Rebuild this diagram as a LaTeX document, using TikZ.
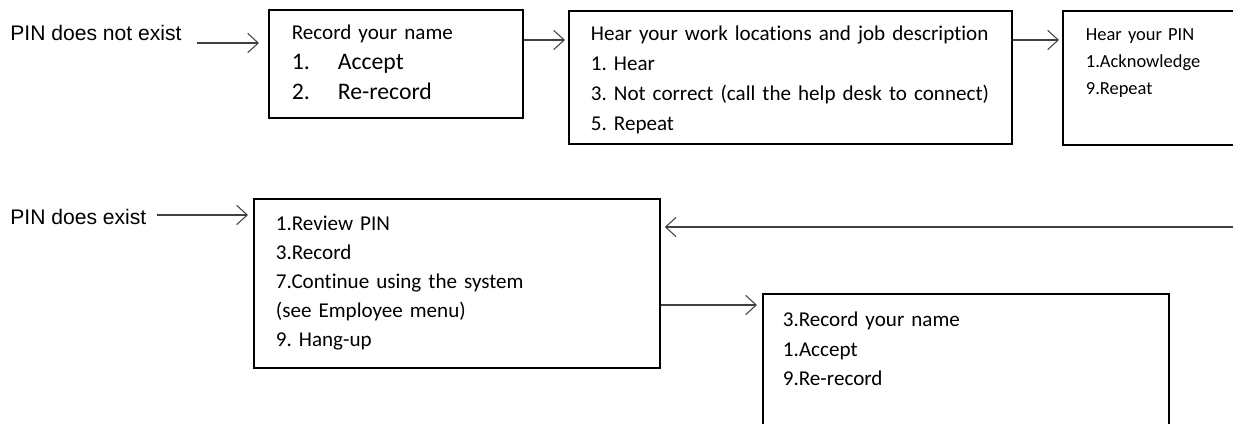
\documentclass[tikz,border=0pt]{standalone}
\usepackage{fontspec}
\setmainfont{Carlito}[Ligatures=NoCommon]
\newfontfamily\arialfont{Liberation Sans}
\usepackage{tikz}
\usetikzlibrary{arrows.meta}
\usepackage{xcolor}
\frenchspacing

\begin{document}
\begin{tikzpicture}[
    menu/.style={draw, line width=1pt, anchor=north west, inner sep=0pt, align=left},
    cue/.style={font=\arialfont\fontsize{12pt}{14pt}\selectfont, anchor=base west, inner sep=0pt},
    arr/.style={-{Straight Barb[length=6pt, width=11pt]}, line width=0.6pt, black!75}
]

  \useasboundingbox (0,0) rectangle (24.66,8.46);
  \clip (0,0) rectangle (24.66,8.46);

  % --- TOP ROW ---
  \node[cue] (noexist) at (0.2,7.64) {PIN does not exist};
  \node[menu, text width=5.08cm, text height=0.6cm, text depth=1.56cm,
        font=\fontsize{12pt}{17.07pt}\selectfont] (rec) at (5.36,8.28)
    {\leftskip=0.46cm Record your name\\
     {\fontsize{13.5pt}{17.07pt}\selectfont\makebox[0.92cm][l]{1.}Accept}\\
     {\fontsize{13.5pt}{17.07pt}\selectfont\makebox[0.92cm][l]{2.}Re-record}\par};
  \node[menu, text width=8.86cm, text height=0.6cm, text depth=2.06cm,
        font=\fontsize{12pt}{17.07pt}\selectfont] (hear) at (11.36,8.26)
    {\leftskip=0.44cm Hear your work locations and job description\\
     1. Hear\\
     3. Not correct (call the help desk to connect)\\
     5. Repeat\par};
  \node[menu, text width=4.76cm, text height=0.59cm, text depth=2.09cm,
        font=\fontsize{10.5pt}{15.37pt}\selectfont] (pin) at (21.24,8.26)
    {\leftskip=0.46cm Hear your PIN\\
     1.Acknowledge\\
     9.Repeat\par};

  % --- BOTTOM ROW ---
  \node[cue] (exist) at (0.2,3.96) {PIN does exist};
  \node[menu, text width=8.12cm, text height=0.64cm, text depth=2.74cm,
        font=\fontsize{12pt}{16.5pt}\selectfont] (review) at (5.06,4.50)
    {\leftskip=0.44cm 1.Review PIN\\
     3.Record\\
     7.Continue using the system\\
     (see Employee menu)\\
     9. Hang-up\par};
  \node[menu, text width=8.12cm, text height=0.66cm, text depth=2.34cm,
        font=\fontsize{12pt}{16.8pt}\selectfont] (name) at (15.24,2.60)
    {\leftskip=0.40cm 3.Record your name\\
     1.Accept\\
     9.Re-record\par};
  \coordinate (back) at (24.8,3.92);

  % --- DRAWING ARROWS ---
  \draw[arr, shorten >=0.18cm] ([xshift=0.3cm,yshift=-0.04cm]noexist.base east) -- ([yshift=-0.04cm]noexist.base east -| rec.west);
  \draw[arr, shorten >=0.06cm] ([yshift=-0.62cm]rec.north east) -- ([yshift=-0.62cm]rec.north east -| hear.west);
  \draw[arr, shorten >=0.06cm] ([yshift=-0.6cm]hear.north east) -- ([yshift=-0.6cm]hear.north east -| pin.west);
  \draw[arr, shorten >=0.1cm] ([xshift=0.2cm,yshift=0.2cm]exist.base east) -- ([yshift=0.2cm]exist.base east -| review.west);
  \draw[arr, shorten >=0.08cm] (back) -- (back -| review.east);
  \draw[arr, shorten >=0.1cm] ([yshift=-2.14cm]review.north east) -- ([yshift=-2.14cm]review.north east -| name.west);
\end{tikzpicture}
\end{document}
